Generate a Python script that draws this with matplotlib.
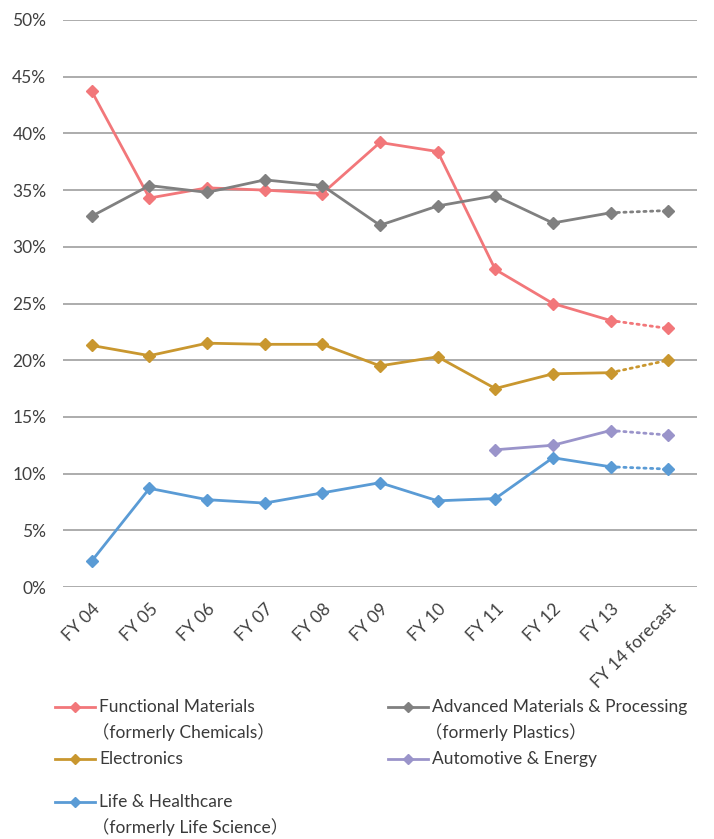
"""Recreate segment share line chart."""

import matplotlib

matplotlib.use("Agg")
import matplotlib.pyplot as plt
import numpy as np
from matplotlib.lines import Line2D

years = ["FY 04", "FY 05", "FY 06", "FY 07", "FY 08", "FY 09", "FY 10",
         "FY 11", "FY 12", "FY 13", "FY 14 forecast"]

functional = [43.7, 34.3, 35.2, 35.0, 34.7, 39.2, 38.4, 28.0, 25.0, 23.5, 22.8]
advanced = [32.7, 35.4, 34.8, 35.9, 35.4, 31.9, 33.6, 34.5, 32.1, 33.0, 33.2]
electronics = [21.3, 20.4, 21.5, 21.4, 21.4, 19.5, 20.3, 17.5, 18.8, 18.9, 20.0]
automotive = [np.nan] * 7 + [12.1, 12.5, 13.8, 13.4]
life = [2.3, 8.7, 7.7, 7.4, 8.3, 9.2, 7.6, 7.8, 11.4, 10.6, 10.4]

series_names = [
    "Functional Materials\n（formerly Chemicals）",
    "Advanced Materials & Processing\n（formerly Plastics）",
    "Electronics",
    "Automotive & Energy",
    "Life & Healthcare\n（formerly Life Science）",
]
series_values = [functional, advanced, electronics, automotive, life]
colors = ["#F2777A", "#808080", "#C9972F", "#9A94CA", "#5A9BD5"]

FONT = ["Lato", "Noto Sans CJK JP", "DejaVu Sans"]
plt.rcParams["font.family"] = FONT

W, H = 714, 839
fig = plt.figure(figsize=(W / 100, H / 100), dpi=100)
ax = fig.add_axes([63 / W, 1 - 587 / H, 634 / W, 567 / H])

x = np.arange(len(years))
n_actual = len(years) - 1  # last point is a forecast

for vals, color in zip(series_values, colors):
    v = np.array(vals, dtype=float)
    ax.plot(x[:n_actual], v[:n_actual], color=color, lw=2.0, marker="D",
            ms=6, zorder=3)
    ax.plot(x[n_actual - 1:], v[n_actual - 1:], color=color, lw=2.0,
            linestyle=(0, (0.8, 1.6)), dash_capstyle="round", marker="D",
            ms=6, markevery=[1], zorder=3)

ax.set_xlim(-0.5, len(years) - 0.5)
ax.set_ylim(0, 50)
ax.set_yticks(np.arange(0, 51, 5))
ax.set_yticklabels([f"{t}%" for t in range(0, 51, 5)], fontsize=12.5,
                   color="#404040")
ax.set_xticks(x)
ax.set_xticklabels(years, rotation=45, ha="right", rotation_mode="anchor",
                   fontsize=12.5, color="#404040")
ax.tick_params(axis="y", length=0, pad=12)
ax.tick_params(axis="x", length=0, pad=10)
ax.grid(axis="y", color="#A6A6A6", lw=1.3, zorder=0)
for s in ax.spines.values():
    s.set_visible(False)

# legend laid out like the spreadsheet one
entries = [(55, 707), (388, 707), (55, 759), (388, 759), (55, 802)]
for (lx, ly), name, color in zip(entries, series_names, colors):
    fy = 1 - ly / H
    fig.add_artist(Line2D([lx / W, (lx + 40) / W], [fy, fy], color=color,
                          lw=2.0, zorder=3))
    fig.add_artist(Line2D([(lx + 20) / W], [fy], color=color, marker="D",
                          ms=5))
    for i, line in enumerate(name.split("\n")):
        tx = lx + 44 - (7 if i else 0)
        fig.text(tx / W, 1 - (ly + i * 25.5) / H, line, fontsize=12.5,
                 color="#3A3A3A", va="center", ha="left", family=FONT)

fig.savefig("out.png", dpi=100)
